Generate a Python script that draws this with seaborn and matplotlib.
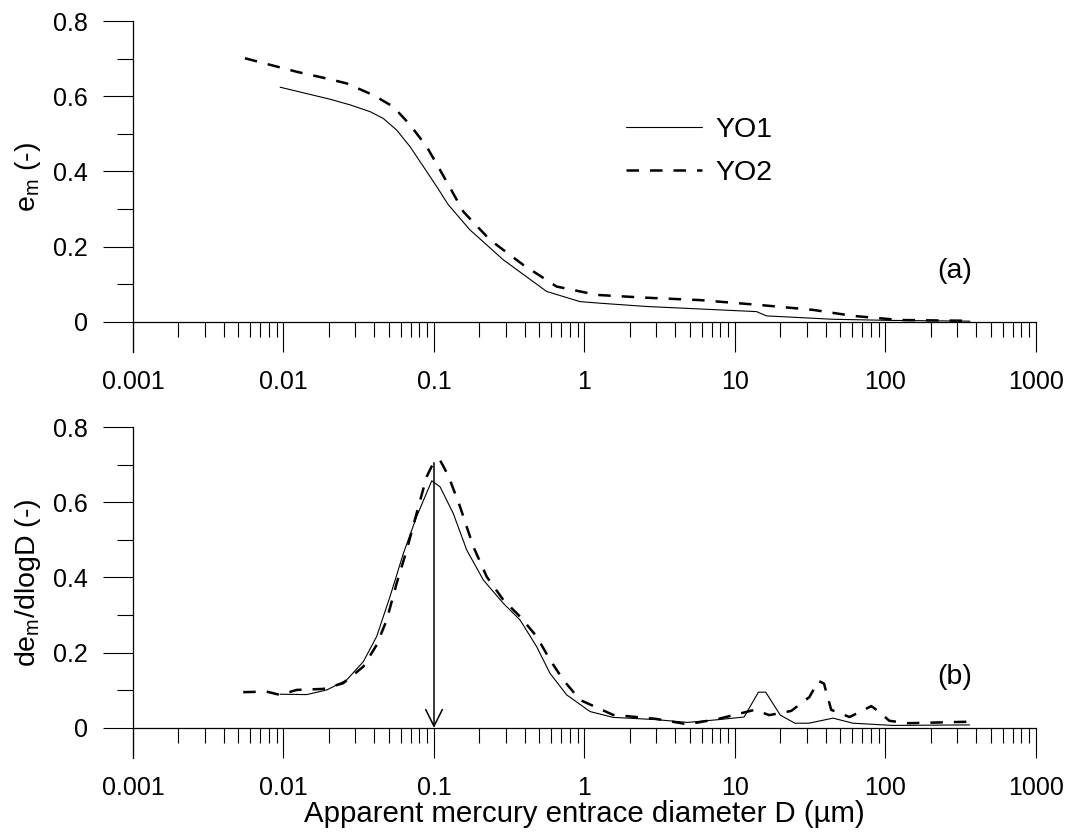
import numpy as np
import pandas as pd
import matplotlib
matplotlib.use("Agg")
import matplotlib.pyplot as plt
import seaborn as sns
from matplotlib.lines import Line2D
from matplotlib.ticker import FixedLocator, FixedFormatter, LogLocator, NullFormatter

sns.set_theme(style="white")
plt.rcParams['font.family'] = ['Liberation Sans', 'DejaVu Sans']
plt.rcParams['mathtext.fontset'] = 'custom'
plt.rcParams['mathtext.rm'] = 'Liberation Sans'
plt.rcParams['mathtext.it'] = 'Liberation Sans'
plt.rcParams['text.color'] = 'black'

# (a) cumulative void ratio e_m
d_a_yo1 = [0.0095, 0.0204, 0.0277, 0.0376, 0.046, 0.0565, 0.0693, 0.085, 0.1042, 0.1242,
           0.173, 0.289, 0.56, 0.933, 1.27, 2.59, 13.9, 16.2, 44.8, 110, 364]
e_a_yo1 = [0.624, 0.592, 0.577, 0.559, 0.541, 0.510, 0.466, 0.413, 0.360, 0.312,
           0.245, 0.165, 0.081, 0.054, 0.0497, 0.041, 0.0274, 0.016, 0.007, 0.004, 0.002]
d_a_yo2 = [0.00554, 0.01225, 0.0204, 0.0263, 0.0395, 0.0537, 0.0693, 0.0894, 0.1097, 0.134,
           0.1567, 0.2357, 0.392, 0.653, 1.205, 2.46, 5.85, 14.6, 33, 60.8, 125, 364]
e_a_yo2 = [0.701, 0.665, 0.645, 0.634, 0.603, 0.572, 0.524, 0.466, 0.404, 0.342,
           0.293, 0.218, 0.1515, 0.094, 0.0718, 0.0647, 0.058, 0.045, 0.032, 0.016, 0.005, 0.003]

# (b) pore size density de_m/dlogD
d_b_yo1 = [0.0095, 0.01427, 0.0194, 0.0263, 0.0339, 0.0416, 0.051, 0.0626, 0.0767, 0.0966,
           0.1097, 0.134, 0.165, 0.213, 0.289, 0.373, 0.481, 0.590, 0.762, 1.09,
           1.55, 3.0, 4.83, 7.76, 11.5, 14.3, 16.0, 20, 25, 31,
           44.8, 60.8, 112, 362]
v_b_yo1 = [0.0895, 0.0886, 0.101, 0.1276, 0.176, 0.243, 0.349, 0.464, 0.562, 0.657,
           0.641, 0.571, 0.473, 0.393, 0.331, 0.287, 0.216, 0.145, 0.0877, 0.0434,
           0.028, 0.022, 0.0146, 0.022, 0.029, 0.095, 0.095, 0.034, 0.0125, 0.0125,
           0.026, 0.0125, 0.0066, 0.008]
d_b_yo2 = [0.0054, 0.0077, 0.0095, 0.0122, 0.0184, 0.0250, 0.0339, 0.0416, 0.0485, 0.0565,
           0.0659, 0.0767, 0.0894, 0.100, 0.110, 0.121, 0.1277, 0.149, 0.1825, 0.224,
           0.289, 0.373, 0.481, 0.590, 0.723, 0.933, 1.55, 3.0, 4.83, 7.76,
           13.5, 16.9, 23.6, 31.2, 35.9, 39, 43.6, 57.7, 72, 80.5,
           90, 106, 140, 362]
v_b_yo2 = [0.095, 0.0966, 0.0877, 0.101, 0.1037, 0.119, 0.163, 0.2206, 0.287, 0.3846,
           0.473, 0.571, 0.668, 0.708, 0.711, 0.68, 0.659, 0.588, 0.482, 0.402,
           0.340, 0.296, 0.243, 0.181, 0.1276, 0.0744, 0.0346, 0.024, 0.0096, 0.024,
           0.048, 0.034, 0.045, 0.082, 0.125, 0.118, 0.048, 0.029, 0.048, 0.058,
           0.044, 0.019, 0.0125, 0.0165]

peak_d = 0.1
peak_v = 0.705

xticks = [0.001, 0.01, 0.1, 1, 10, 100, 1000]
xticklabels = ['0.001', '0.01', '0.1', '1', '10', '100', '1000']
yticks = [0, 0.2, 0.4, 0.6, 0.8]
yticklabels = ['0', '0.2', '0.4', '0.6', '0.8']

TICK_FS = 18
FS = 20.5


def make_df(d1, v1, d2, v2):
    return pd.concat([
        pd.DataFrame({'D': d1, 'val': v1, 'sample': 'YO1'}),
        pd.DataFrame({'D': d2, 'val': v2, 'sample': 'YO2'}),
    ], ignore_index=True)


def style_axis(ax):
    ax.set_xscale('log')
    ax.set_xlim(0.001, 1000)
    ax.set_ylim(-0.08, 0.8)
    for s in ['top', 'right']:
        ax.spines[s].set_visible(False)
    ax.spines['bottom'].set_position(('data', 0))
    for s in ['left', 'bottom']:
        ax.spines[s].set_color('black')
        ax.spines[s].set_linewidth(0.9)
    ax.xaxis.set_major_locator(FixedLocator(xticks))
    ax.xaxis.set_major_formatter(FixedFormatter(xticklabels))
    ax.xaxis.set_minor_locator(LogLocator(base=10, subs=np.arange(2, 10), numticks=20))
    ax.xaxis.set_minor_formatter(NullFormatter())
    ax.yaxis.set_major_locator(FixedLocator(yticks))
    ax.yaxis.set_major_formatter(FixedFormatter(yticklabels))
    ax.yaxis.set_minor_locator(FixedLocator([0.1, 0.3, 0.5, 0.7]))
    ax.tick_params(axis='both', which='both', bottom=True, left=True, top=False, right=False)
    ax.tick_params(axis='both', which='major', direction='out', length=21.6, width=0.8,
                   color='black', labelsize=TICK_FS, labelcolor='black')
    ax.tick_params(axis='x', which='major', pad=13)
    ax.tick_params(axis='y', which='major', pad=11)
    ax.tick_params(axis='x', which='minor', direction='out', length=10.8, width=0.8, color='black')
    ax.tick_params(axis='y', which='minor', direction='out', length=11.5, width=0.8, color='black')
    ax.grid(False)
    ax.set_facecolor('white')


fig = plt.figure(figsize=(10.71, 8.39), dpi=100)
ax1 = fig.add_axes([0.12418, 0.58045, 0.84314, 0.39452])
ax2 = fig.add_axes([0.12418, 0.09654, 0.84314, 0.39452])

dash_map = {'YO1': '', 'YO2': (5, 4.4)}
size_map = {'YO1': 0.8, 'YO2': 1.8}

df_a = make_df(d_a_yo1, e_a_yo1, d_a_yo2, e_a_yo2)
sns.lineplot(data=df_a, x='D', y='val', style='sample', size='sample', dashes=dash_map,
             sizes=size_map, color='black', sort=False, estimator=None, legend=False, ax=ax1)

df_b = make_df(d_b_yo1, v_b_yo1, d_b_yo2, v_b_yo2)
sns.lineplot(data=df_b, x='D', y='val', style='sample', size='sample', dashes=dash_map,
             sizes=size_map, color='black', sort=False, estimator=None, legend=False, ax=ax2)

for ax in (ax1, ax2):
    style_axis(ax)
    ax.set_xlabel('')

ax1.set_ylabel(r'e$_\mathregular{m}$ (-)', fontsize=FS, color='black')
ax2.set_ylabel(r'de$_\mathregular{m}$/dlogD (-)', fontsize=FS, color='black')
ax1.yaxis.set_label_coords(-0.1, 0.53)
ax2.yaxis.set_label_coords(-0.1, 0.53)
ax2.set_xlabel('Apparent mercury entrace diameter D (µm)', fontsize=21.2, color='black', labelpad=0)

ax1.text(290, 0.135, '(a)', fontsize=FS, ha='center', va='center', color='black')
ax2.text(290, 0.135, '(b)', fontsize=FS, ha='center', va='center', color='black')

ax2.annotate('', xy=(peak_d, 0), xytext=(peak_d, peak_v),
             arrowprops=dict(arrowstyle='->,head_length=1.2,head_width=0.6', color='black',
                             lw=1.1, mutation_scale=10, shrinkA=0, shrinkB=0))

handles = [Line2D([], [], color='black', lw=0.8),
           Line2D([], [], color='black', lw=1.8, dashes=(5, 4.4))]
fig.legend(handles, ['YO1', 'YO2'], loc='upper left', bbox_to_anchor=(626 / 1071, 1 - 117 / 839),
           frameon=False, fontsize=FS, handlelength=2.67, handletextpad=0.46,
           labelspacing=0.58, borderpad=0, borderaxespad=0, labelcolor='black')

fig.savefig('out.png', dpi=100, facecolor='white')
